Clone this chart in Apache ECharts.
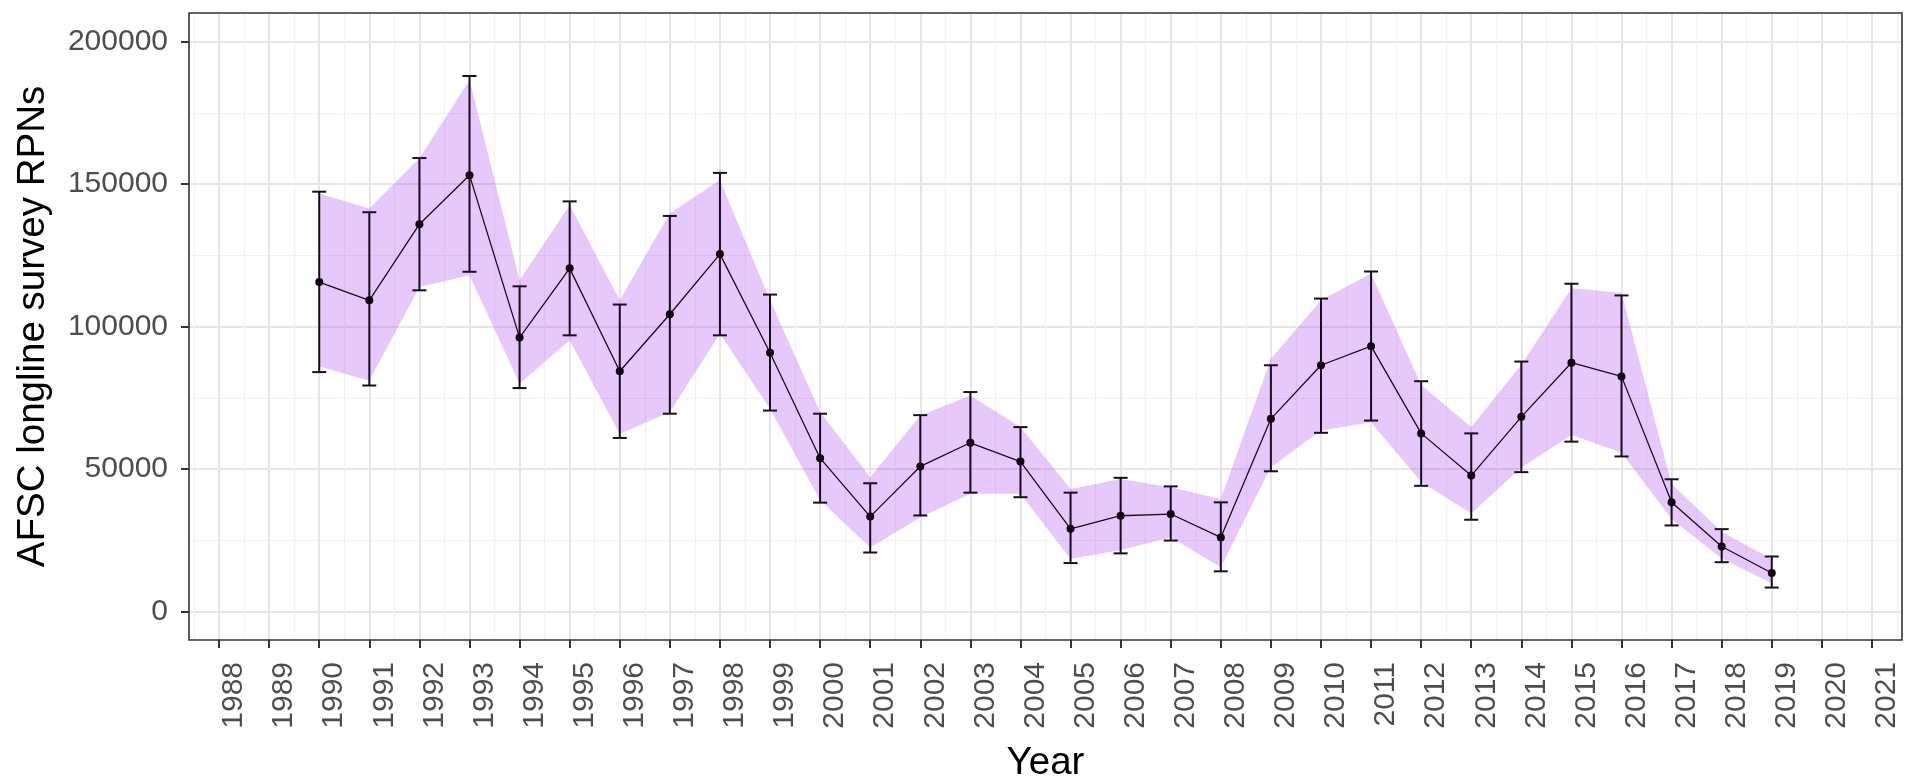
<!DOCTYPE html>
<html>
<head>
<meta charset="utf-8">
<script src="https://cdn.jsdelivr.net/npm/echarts@6/dist/echarts.min.js"></script>
<style>
html,body{margin:0;padding:0;background:#fff;}
#chart{width:1907px;height:778px;}
</style>
</head>
<body>
<div id="chart"></div>
<script>
// ---- data ----
const years = [1990,1991,1992,1993,1994,1995,1996,1997,1998,1999,2000,2001,2002,2003,2004,2005,2006,2007,2008,2009,2010,2011,2012,2013,2014,2015,2016,2017,2018,2019];
const rpn = [115600,109200,135900,153100,96100,120400,84300,104300,125400,90800,53800,33300,50900,59200,52600,29000,33600,34200,26000,67600,86400,93100,62500,47700,68300,87300,82500,38300,22800,13500];
const errHi = [147300,140100,159100,187900,114100,143900,107700,138800,153900,111200,69400,45000,68900,77000,64700,41700,46900,43900,38300,86400,109800,119300,80800,62500,87700,115000,110900,46400,28900,19300];
const errLo = [84000,79300,112700,119200,78400,96900,60900,69400,96900,70500,38200,20700,33700,41700,40100,17000,20400,24900,14100,49200,62700,67000,44100,32200,48900,59600,54400,30200,17300,8400];
const ribbonHi = [146700,141400,159000,186500,116200,142600,109200,139700,151400,109200,70000,47100,68800,75800,64700,43000,46500,43600,39500,88700,109200,118600,79500,64700,86600,113400,111800,44700,28000,18300];
const ribbonLo = [86000,81000,113900,118000,79900,95200,62300,70000,97500,71100,39000,22500,33000,41300,41300,18400,21600,26000,15500,50600,63500,66400,45400,34400,50500,61900,55700,32500,18600,9900];
const xTicks = [1988,1989,1990,1991,1992,1993,1994,1995,1996,1997,1998,1999,2000,2001,2002,2003,2004,2005,2006,2007,2008,2009,2010,2011,2012,2013,2014,2015,2016,2017,2018,2019,2020,2021];
const xMinor = [1987.5,1988.5,1989.5,1990.5,1991.5,1992.5,1993.5,1994.5,1995.5,1996.5,1997.5,1998.5,1999.5,2000.5,2001.5,2002.5,2003.5,2004.5,2005.5,2006.5,2007.5,2008.5,2009.5,2010.5,2011.5,2012.5,2013.5,2014.5,2015.5,2016.5,2017.5,2018.5,2019.5,2020.5,2021.5];
const yTicks = [0,50000,100000,150000,200000];
const yMinor = [25000,75000,125000,175000];
const xTitle = 'Year';
const yTitle = 'AFSC longline survey RPNs';

const FONT = '"Liberation Sans", Arial, sans-serif';
const chart = echarts.init(document.getElementById('chart'), null, {renderer:'canvas'});

const majorGrid = {show:true, lineStyle:{color:'#e6e6e6', width:2}};
const minorGrid = {show:true, lineStyle:{color:'#f1f1f1', width:1.2}};

const option = {
  animation:false,
  backgroundColor:'#fff',
  grid:{left:189, right:5, top:13, bottom:138, containLabel:false, outerBoundsMode:'none',
        show:true, borderColor:'#333333', borderWidth:1.6, backgroundColor:'transparent', z:5},
  xAxis:[{
    type:'value', min:1987.4, max:2021.6, gridIndex:0,
    name:xTitle, nameLocation:'middle', nameGap:104,
    nameTextStyle:{fontFamily:FONT, fontSize:38.5, color:'#000'},
    axisLine:{show:false, onZero:false},
    axisTick:{show:true, customValues:xTicks, length:8, lineStyle:{color:'#333333', width:2}},
    axisLabel:{customValues:xTicks, rotate:90, margin:22, verticalAlign:'top', fontFamily:FONT, fontSize:30, color:'#4d4d4d', formatter:v=>String(v)},
    splitLine:majorGrid
  },{
    type:'value', min:1987.4, max:2021.6, gridIndex:0,
    axisLine:{show:false, onZero:false},
    axisTick:{show:false, customValues:xMinor},
    axisLabel:{show:false},
    splitLine:minorGrid
  }],
  yAxis:[{
    type:'value', min:-10000, max:210000, gridIndex:0,
    name:yTitle, nameLocation:'middle', nameGap:136, nameRotate:90,
    nameTextStyle:{fontFamily:FONT, fontSize:38.5, color:'#000'},
    axisLine:{show:false, onZero:false},
    axisTick:{show:true, customValues:yTicks, length:8, lineStyle:{color:'#333333', width:2}},
    axisLabel:{customValues:yTicks, margin:21, fontFamily:FONT, fontSize:30, color:'#4d4d4d', formatter:v=>String(v)},
    splitLine:majorGrid
  },{
    type:'value', min:-10000, max:210000, gridIndex:0,
    axisLine:{show:false, onZero:false},
    axisTick:{show:false, customValues:yMinor},
    axisLabel:{show:false},
    splitLine:minorGrid
  }],
  series:[
    {
      type:'custom', name:'ribbon', xAxisIndex:0, yAxisIndex:0, z:2, silent:true,
      data: years.map((y,i)=>[y, ribbonLo[i], ribbonHi[i]]),
      encode:{x:0, y:[1,2]},
      renderItem:(params, api)=>{
        if (params.dataIndex !== 0) return null;
        const pts = [];
        for (let i=0;i<years.length;i++) pts.push(api.coord([years[i], ribbonHi[i]]));
        for (let i=years.length-1;i>=0;i--) pts.push(api.coord([years[i], ribbonLo[i]]));
        return {type:'polygon', shape:{points:pts}, style:{fill:'rgba(165,50,240,0.27)', stroke:null}};
      }
    },
    {
      type:'custom', name:'errorbars', xAxisIndex:0, yAxisIndex:0, z:3, silent:true,
      data: years.map((y,i)=>[y, errLo[i], errHi[i]]),
      encode:{x:0, y:[1,2]},
      renderItem:(params, api)=>{
        const x = api.value(0);
        const lo = api.coord([x, api.value(1)]);
        const hi = api.coord([x, api.value(2)]);
        const hw = 7;
        const st = {stroke:'#1a0d1f', lineWidth:2};
        return {type:'group', children:[
          {type:'line', shape:{x1:lo[0], y1:lo[1], x2:hi[0], y2:hi[1]}, style:st},
          {type:'line', shape:{x1:lo[0]-hw, y1:lo[1], x2:lo[0]+hw, y2:lo[1]}, style:st},
          {type:'line', shape:{x1:hi[0]-hw, y1:hi[1], x2:hi[0]+hw, y2:hi[1]}, style:st}
        ]};
      }
    },
    {
      type:'line', name:'RPN', xAxisIndex:0, yAxisIndex:0, z:4,
      data: years.map((y,i)=>[y, rpn[i]]),
      symbol:'circle', symbolSize:8, showSymbol:true,
      itemStyle:{color:'#0d0010'},
      lineStyle:{color:'#1a0d1f', width:1.3},
      emphasis:{disabled:true}
    }
  ]
};
chart.setOption(option);
</script>
</body>
</html>
